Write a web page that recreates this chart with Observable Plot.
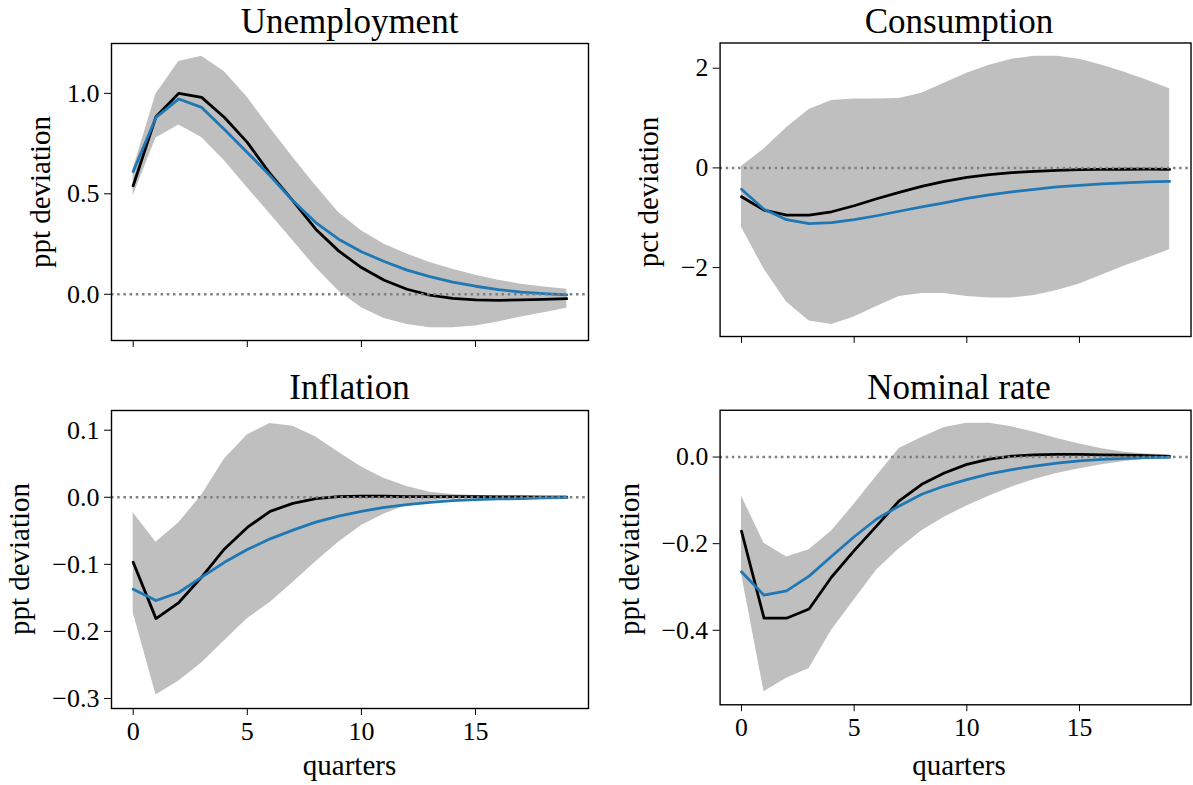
<!DOCTYPE html>
<html>
<head>
<meta charset="utf-8">
<script src="https://cdn.jsdelivr.net/npm/d3@7"></script>
<script src="https://cdn.jsdelivr.net/npm/@observablehq/plot@0.6"></script>
<style>
  html, body { margin: 0; padding: 0; background: #fff; overflow: hidden; }
  #root { position: relative; width: 1193px; height: 785px; overflow: hidden; font-family: "Liberation Serif", serif; color: #000; }
  .panel { position: absolute; }
  .panel svg text { font-family: "Liberation Serif", serif !important; font-variant: normal !important; }
  .title { position: absolute; white-space: nowrap; line-height: 1; font-size: 35px; transform: translateX(-50%); }
  .xlab { position: absolute; white-space: nowrap; line-height: 1; font-size: 29px; transform: translateX(-50%); }
  .ylab { position: absolute; width: 0; height: 0; transform: rotate(-90deg); transform-origin: 0 0; }
  .ylab span { position: absolute; left: 0; top: 0; white-space: nowrap; line-height: 1; font-size: 29px; transform: translate(-50%, -0.8375em); }
</style>
</head>
<body>
<div id="root"></div>
<script>
// quarters after the shock
const quarters = [0,1,2,3,4,5,6,7,8,9,10,11,12,13,14,15,16,17,18,19];
const xTicks = [0, 5, 10, 15];

// Unemployment (ppt deviation)
const unempLo    = [0.49,0.778,0.842,0.78,0.664,0.53,0.399,0.266,0.133,0.016,-0.067,-0.12,-0.15,-0.166,-0.166,-0.158,-0.138,-0.113,-0.092,-0.07];
const unempHi    = [0.623,0.997,1.158,1.185,1.108,0.98,0.828,0.681,0.54,0.407,0.316,0.249,0.2,0.158,0.125,0.095,0.07,0.05,0.036,0.025];
const unempBlack = [0.54,0.884,1.0,0.98,0.88,0.756,0.6,0.465,0.324,0.216,0.133,0.07,0.025,-0.004,-0.02,-0.028,-0.03,-0.028,-0.025,-0.022];
const unempBlue  = [0.611,0.88,0.972,0.93,0.82,0.706,0.59,0.465,0.357,0.274,0.212,0.163,0.12,0.088,0.061,0.04,0.023,0.011,0.003,-0.003];
const unempTicks = [0, 0.5, 1.0];

// Consumption (pct deviation)
const consLo    = [-1.19,-2.03,-2.69,-3.07,-3.14,-2.99,-2.78,-2.58,-2.52,-2.52,-2.58,-2.61,-2.61,-2.56,-2.46,-2.33,-2.15,-1.97,-1.81,-1.64];
const consHi    = [0.03,0.377,0.807,1.17,1.35,1.38,1.38,1.39,1.5,1.7,1.9,2.06,2.18,2.24,2.24,2.18,2.06,1.92,1.76,1.59];
const consBlack = [-0.58,-0.847,-0.946,-0.946,-0.88,-0.76,-0.62,-0.49,-0.37,-0.27,-0.19,-0.135,-0.095,-0.068,-0.05,-0.037,-0.03,-0.027,-0.025,-0.03];
const consBlue  = [-0.43,-0.83,-1.04,-1.12,-1.1,-1.04,-0.96,-0.87,-0.78,-0.7,-0.61,-0.54,-0.48,-0.43,-0.38,-0.35,-0.32,-0.3,-0.28,-0.27];
const consTicks = [-2, 0, 2];

// Inflation (ppt deviation)
const inflLo    = [-0.172,-0.295,-0.274,-0.247,-0.214,-0.181,-0.157,-0.127,-0.096,-0.067,-0.042,-0.025,-0.012,-0.006,-0.003,-0.002,-0.0015,-0.0015,-0.0015,-0.0015];
const inflHi    = [-0.023,-0.067,-0.038,0.003,0.057,0.093,0.11,0.106,0.09,0.067,0.045,0.028,0.016,0.0075,0.004,0.0026,0.002,0.002,0.002,0.002];
const inflBlack = [-0.097,-0.181,-0.157,-0.119,-0.077,-0.045,-0.021,-0.009,-0.002,0.001,0.0015,0.0015,0.001,0.001,0.001,0.001,0.0005,0.0005,0.0003,0.0002];
const inflBlue  = [-0.137,-0.154,-0.142,-0.119,-0.097,-0.078,-0.062,-0.049,-0.037,-0.028,-0.021,-0.015,-0.011,-0.0075,-0.005,-0.0034,-0.0025,-0.002,-0.001,-0.0005];
const inflTicks = [-0.3, -0.2, -0.1, 0.0, 0.1];

// Nominal rate (ppt deviation)
const rateLo    = [-0.27,-0.542,-0.511,-0.488,-0.4,-0.33,-0.261,-0.212,-0.17,-0.139,-0.113,-0.09,-0.069,-0.052,-0.038,-0.027,-0.018,-0.01,-0.0046,-0.002];
const rateHi    = [-0.09,-0.199,-0.231,-0.214,-0.171,-0.109,-0.044,0.02,0.045,0.068,0.078,0.078,0.07,0.057,0.043,0.03,0.019,0.011,0.007,0.005];
const rateBlack = [-0.171,-0.372,-0.372,-0.351,-0.277,-0.216,-0.159,-0.101,-0.063,-0.037,-0.017,-0.005,0.002,0.005,0.006,0.006,0.005,0.0045,0.003,0.0017];
const rateBlue  = [-0.265,-0.319,-0.309,-0.275,-0.229,-0.184,-0.143,-0.113,-0.086,-0.067,-0.052,-0.039,-0.029,-0.021,-0.014,-0.009,-0.0055,-0.003,-0.0016,-0.001];
const rateTicks = [-0.4, -0.2, 0.0];

const titles = ["Unemployment", "Consumption", "Inflation", "Nominal rate"];
const yLabels = ["ppt deviation", "pct deviation", "ppt deviation", "ppt deviation"];
const xLabel = "quarters";

const root = document.getElementById("root");
const FONT = "Liberation Serif";

function rows(lo, hi, black, blue) {
  return quarters.map((q, i) => ({q, lo: lo[i], hi: hi[i], black: black[i], blue: blue[i]}));
}

function panel({left, top, width, height, mL, mR, mT, mB, yDomain, yTicks, yFmt, showX, data}) {
  const svg = Plot.plot({
    width, height,
    marginLeft: mL, marginRight: mR, marginTop: mT, marginBottom: mB,
    x: {domain: [-0.95, 19.95]},
    y: {domain: yDomain},
    style: {fontFamily: FONT, fontSize: "26px", color: "#000", background: "transparent", overflow: "visible"},
    marks: [
      Plot.areaY(data, {x: "q", y1: "lo", y2: "hi", fill: "#bfbfbf"}),
      Plot.line(data, {x: "q", y: "black", stroke: "#000", strokeWidth: 2.8}),
      Plot.line(data, {x: "q", y: "blue", stroke: "#1f77b4", strokeWidth: 2.8}),
      Plot.ruleY([0], {stroke: "#808080", strokeWidth: 2.5, strokeDasharray: "2.5,3.7"}),
      Plot.frame({stroke: "#000", strokeWidth: 1.4}),
      Plot.axisX({ticks: xTicks, tickSize: 7, tickPadding: 6, fontFamily: FONT, fontSize: 26,
        tickFormat: showX ? (d => String(d)) : (() => ""), label: null}),
      Plot.axisY({ticks: yTicks, tickSize: 7, tickPadding: 5, fontFamily: FONT, fontSize: 26,
        tickFormat: yFmt, label: null})
    ]
  });
  const div = document.createElement("div");
  div.className = "panel";
  div.style.left = left + "px";
  div.style.top = top + "px";
  div.appendChild(svg);
  root.appendChild(div);
}

const f1 = d3.format(".1f");
const f0 = d3.format("d");

panel({left: 0, top: 0, width: 600, height: 390, mL: 111, mR: 12, mT: 43, mB: 50,
  yDomain: [-0.230, 1.248], yTicks: unempTicks, yFmt: f1, showX: false,
  data: rows(unempLo, unempHi, unempBlack, unempBlue)});
panel({left: 600, top: 0, width: 600, height: 390, mL: 121, mR: 2.5, mT: 43, mB: 50,
  yDomain: [-3.383, 2.506], yTicks: consTicks, yFmt: f0, showX: false,
  data: rows(consLo, consHi, consBlack, consBlue)});
panel({left: 0, top: 390, width: 600, height: 395, mL: 111, mR: 12, mT: 20, mB: 77,
  yDomain: [-0.315, 0.1294], yTicks: inflTicks, yFmt: f1, showX: true,
  data: rows(inflLo, inflHi, inflBlack, inflBlue)});
panel({left: 600, top: 390, width: 600, height: 395, mL: 121, mR: 2.5, mT: 20, mB: 77,
  yDomain: [-0.572, 0.108], yTicks: rateTicks, yFmt: f1, showX: true,
  data: rows(rateLo, rateHi, rateBlack, rateBlue)});

// titles (centre x, baseline y)
const titlePos = [[349.5, 33], [959, 33], [349.5, 399], [959, 399]];
titles.forEach((t, i) => {
  const d = document.createElement("div");
  d.className = "title";
  d.textContent = t;
  d.style.left = titlePos[i][0] + "px";
  d.style.top = (titlePos[i][1] - 0.8375 * 35) + "px";
  root.appendChild(d);
});

// y labels (baseline x, centre y)
const yLabPos = [[50, 191.5], [658, 191.5], [29, 559], [639, 559]];
yLabels.forEach((t, i) => {
  const d = document.createElement("div");
  d.className = "ylab";
  d.style.left = yLabPos[i][0] + "px";
  d.style.top = yLabPos[i][1] + "px";
  const s = document.createElement("span");
  s.textContent = t;
  d.appendChild(s);
  root.appendChild(d);
});

// x labels
[[349.5, 775], [959, 775]].forEach(([cx, by]) => {
  const d = document.createElement("div");
  d.className = "xlab";
  d.textContent = xLabel;
  d.style.left = cx + "px";
  d.style.top = (by - 0.8375 * 29) + "px";
  root.appendChild(d);
});
</script>
</body>
</html>
